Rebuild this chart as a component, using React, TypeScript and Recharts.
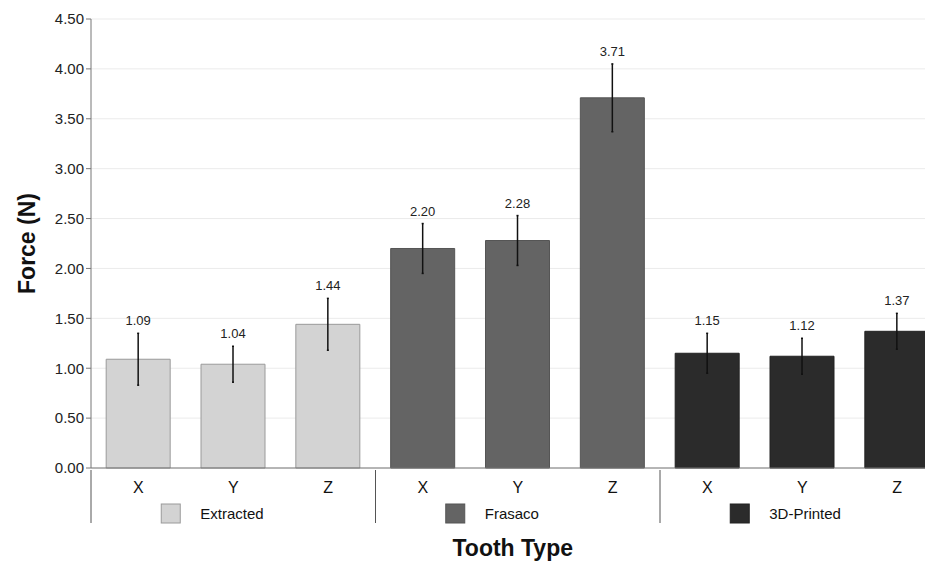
import { BarChart, Bar, Cell, XAxis, YAxis, CartesianGrid, ErrorBar, LabelList } from 'recharts';

const axes = ['X', 'Y', 'Z', 'X', 'Y', 'Z', 'X', 'Y', 'Z'];
const groups = ['Extracted', 'Extracted', 'Extracted', 'Frasaco', 'Frasaco', 'Frasaco', '3D-Printed', '3D-Printed', '3D-Printed'];
const means = [1.09, 1.04, 1.44, 2.2, 2.28, 3.71, 1.15, 1.12, 1.37];
const errors = [0.26, 0.18, 0.26, 0.25, 0.25, 0.34, 0.2, 0.18, 0.18];
const yTicks = [0, 0.5, 1, 1.5, 2, 2.5, 3, 3.5, 4, 4.5];

const groupFill: Record<string, string> = {
  Extracted: '#d3d3d3',
  Frasaco: '#646464',
  '3D-Printed': '#2b2b2b',
};
const groupStroke: Record<string, string> = {
  Extracted: '#9a9a9a',
  Frasaco: '#555555',
  '3D-Printed': '#222222',
};

const data = axes.map((a, i) => ({
  key: `${groups[i]}-${a}`,
  axis: a,
  group: groups[i],
  mean: means[i],
  err: errors[i],
}));

const FONT = '"Liberation Sans", Arial, sans-serif';
const BAND = 853.5 / 9;

// eslint-disable-next-line @typescript-eslint/no-explicit-any
function GroupTick({ x, y, index }: any) {
  const row = data[index];
  if (!row) return null;
  const half = BAND / 2;
  const isFirst = index === 0 || data[index - 1].group !== row.group;
  const isLast = index === data.length - 1;
  const isMiddle = row.axis === 'Y';
  return (
    <g>
      <text x={x} y={y + 23} textAnchor="middle" fontSize={16} fill="#111" fontFamily={FONT}>
        {row.axis}
      </text>
      {isFirst && <line x1={x - half} x2={x - half} y1={y} y2={y + 53} stroke="#555" />}
      {isLast && <line x1={x + half} x2={x + half} y1={y} y2={y + 53} stroke="#555" />}
      {isMiddle && (
        <g>
          <rect
            x={x - 72}
            y={y + 34}
            width={19}
            height={19}
            fill={groupFill[row.group]}
            stroke={groupStroke[row.group]}
          />
          <text x={x - 33} y={y + 49} fontSize={15} fill="#111" fontFamily={FONT}>
            {row.group}
          </text>
        </g>
      )}
    </g>
  );
}

// eslint-disable-next-line @typescript-eslint/no-explicit-any
function ValueLabel({ x, y, width, height, value, index }: any) {
  const row = data[index];
  if (!row) return null;
  const pxPerUnit = height / value;
  const top = y - row.err * pxPerUnit;
  return (
    <text x={x + width / 2} y={top - 8} textAnchor="middle" fontSize={13} fill="#222" fontFamily={FONT}>
      {Number(value).toFixed(2)}
    </text>
  );
}

export default function App() {
  return (
    <div style={{ margin: '-8px 0 0 -8px', width: 933, height: 564, overflow: 'hidden', background: '#fff' }}>
      <BarChart
        width={960}
        height={564}
        data={data}
        margin={{ top: 19, right: 15.5, left: 0, bottom: 0 }}
        barCategoryGap="16%"
      >
        <CartesianGrid vertical={false} stroke="#ebebeb" />
        <XAxis
          dataKey="key"
          tick={<GroupTick />}
          tickLine={false}
          tickSize={0}
          height={96}
          stroke="#777"
          interval={0}
          label={{
            value: 'Tooth Type',
            position: 'insideBottom',
            offset: 8,
            dx: -5,
            fontSize: 23,
            fontWeight: 'bold',
            fill: '#111',
            fontFamily: FONT,
          }}
        />
        <YAxis
          domain={[0, 4.5]}
          ticks={yTicks}
          width={91}
          stroke="#777"
          tickSize={5}
          tick={{ fontSize: 15, fill: '#222', fontFamily: FONT }}
          tickFormatter={(v: number) => v.toFixed(2)}
          label={{
            value: 'Force (N)',
            angle: -90,
            position: 'insideLeft',
            offset: 27,
            fontSize: 23,
            fontWeight: 'bold',
            fill: '#111',
            fontFamily: FONT,
            style: { textAnchor: 'middle' },
          }}
        />
        <Bar dataKey="mean" isAnimationActive={false}>
          {data.map((d) => (
            <Cell key={d.key} fill={groupFill[d.group]} stroke={groupStroke[d.group]} />
          ))}
          <ErrorBar dataKey="err" width={1} stroke="#111" strokeWidth={1.5} isAnimationActive={false} />
          <LabelList dataKey="mean" content={<ValueLabel />} />
        </Bar>
      </BarChart>
    </div>
  );
}
